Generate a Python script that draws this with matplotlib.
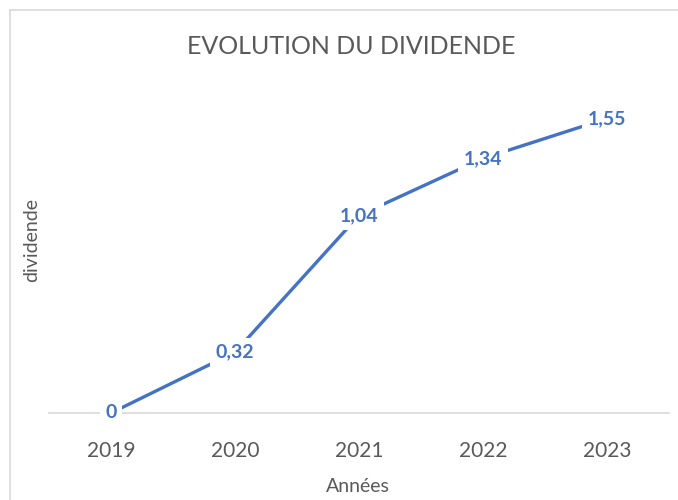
import matplotlib
matplotlib.use("Agg")
import matplotlib.pyplot as plt
from matplotlib.lines import Line2D

years = ["2019", "2020", "2021", "2022", "2023"]
dividende = [0, 0.32, 1.04, 1.34, 1.55]
labels = ["0", "0,32", "1,04", "1,34", "1,55"]

plt.rcParams['font.family'] = ['Lato', 'DejaVu Sans']

fig = plt.figure(figsize=(6.78, 5.0), dpi=100)
ax = fig.add_axes([49/678, 87/500, 620/678, (413-71)/500])

x = list(range(len(years)))
blue = "#4472C4"
ax.plot(x, dividende, color=blue, linewidth=2.4, solid_capstyle='butt', zorder=2)
for xi, yi, lab in zip(x, dividende, labels):
    ax.text(xi, yi, lab, ha='center', va='center', fontsize=14, fontweight='bold',
            color=blue, zorder=3,
            bbox=dict(facecolor='white', edgecolor='none', pad=4))

ax.set_xlim(-0.5, len(years) - 0.5)
ax.set_ylim(0, 1.8)
ax.set_xticks(x)
ax.set_xticklabels(years, fontsize=15, color="#595959")
ax.set_yticks([])
ax.tick_params(axis='x', length=0, pad=20)
for s in ['top', 'right', 'left']:
    ax.spines[s].set_visible(False)
ax.spines['bottom'].set_color("#D9D9D9")
ax.spines['bottom'].set_linewidth(1.2)
ax.spines['bottom'].set_zorder(1)

fig.text(358/678, 1 - 487/500, "Années", ha='center', va='center',
         fontsize=14, color="#595959")
fig.text(32/678, 1 - 240/500, "dividende", rotation=90, ha='center', va='center',
         fontsize=14, color="#595959")
fig.text(351/678, 1 - 47/500, "EVOLUTION DU DIVIDENDE", ha='center', va='center',
         fontsize=18, color="#595959", fontweight='normal')

# chart frame edges (left and top visible)
fig.add_artist(Line2D([10/678, 10/678], [0, 1 - 10/500], transform=fig.transFigure,
                      color="#D9D9D9", linewidth=1.2))
fig.add_artist(Line2D([10/678, 1], [1 - 10/500, 1 - 10/500], transform=fig.transFigure,
                      color="#D9D9D9", linewidth=1.2))

fig.savefig("out.png", dpi=100)
